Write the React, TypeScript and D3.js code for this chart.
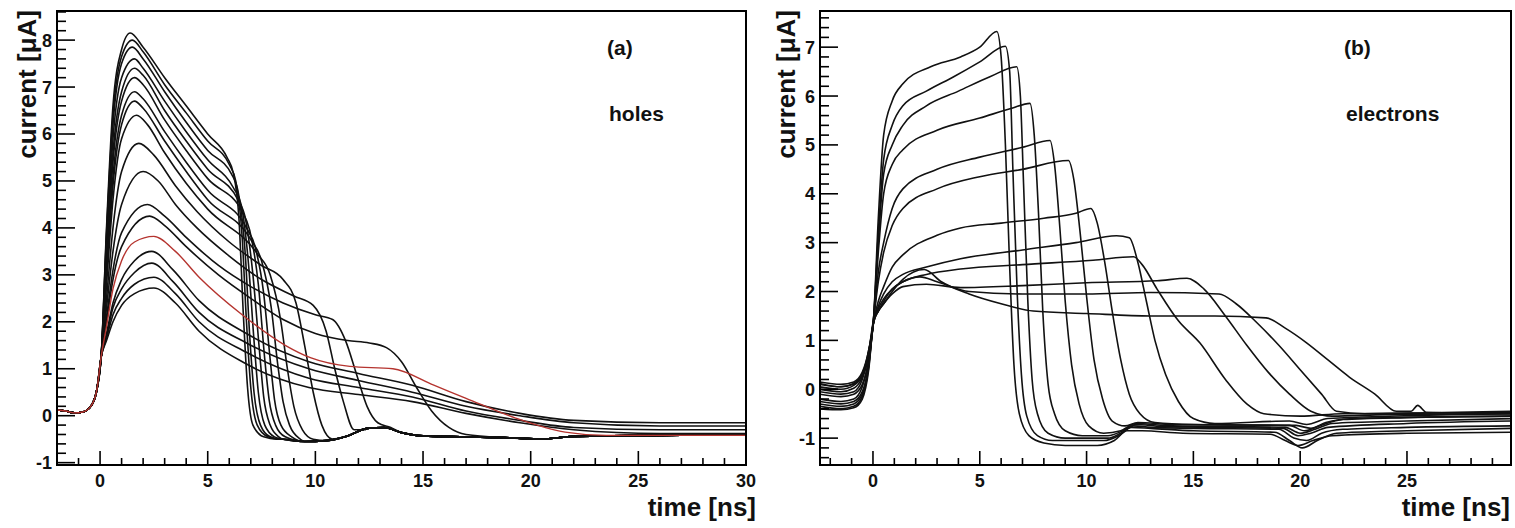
import React from "react";
import * as d3 from "d3";

type Pt = [number, number];

// ---------- panel (a): holes ----------
const holesXTicks = [0, 5, 10, 15, 20, 25, 30];
const holesYTicks = [-1, 0, 1, 2, 3, 4, 5, 6, 7, 8];

// common pre-trigger part, shared by all hole pulses
const holesOnset: Pt[] = [
  [-2, 0.12], [-1.6, 0.1], [-1.2, 0.06], [-0.8, 0.08], [-0.4, 0.22], [-0.15, 0.55], [0.05, 1.25],
];

// common undershoot after the pulses have ended
const holesBaseline: Pt[] = [
  [8.5, -0.5], [9.5, -0.55], [10.5, -0.53], [11.5, -0.43], [12.4, -0.27], [13.2, -0.25],
  [14.0, -0.36], [15.0, -0.43], [17, -0.45], [19, -0.47], [20.5, -0.5], [22, -0.44], [26, -0.42], [30, -0.4],
];

const holesCurves: Pt[][] = [
  [[0.3, 4.0], [0.6, 6.6], [1.0, 7.8], [1.4, 8.15], [2, 7.85], [3, 7.2], [4, 6.6], [5, 6.0], [5.9, 5.5], [6.2, 5.15], [6.45, 4.2], [6.65, 2.2], [6.85, 0.6], [7.1, -0.2], [7.6, -0.45], [8.2, -0.5]],
  [[0.3, 3.9], [0.6, 6.4], [1.0, 7.65], [1.5, 8.0], [2, 7.75], [3, 7.05], [4, 6.45], [5, 5.85], [6.0, 5.35], [6.3, 5.0], [6.6, 3.8], [6.8, 2.0], [7.0, 0.6], [7.3, -0.2], [7.8, -0.45], [8.3, -0.5]],
  [[0.3, 3.8], [0.6, 6.2], [1.0, 7.5], [1.5, 7.85], [2, 7.6], [3, 6.9], [4, 6.25], [5, 5.65], [6.1, 5.15], [6.4, 4.8], [6.75, 3.4], [6.95, 1.7], [7.15, 0.5], [7.45, -0.2], [7.9, -0.45], [8.4, -0.5]],
  [[0.3, 3.6], [0.6, 5.9], [1.0, 7.2], [1.6, 7.6], [2, 7.4], [3, 6.7], [4, 6.05], [5, 5.45], [6.2, 4.85], [6.55, 4.5], [6.9, 3.2], [7.15, 1.6], [7.35, 0.5], [7.65, -0.2], [8.1, -0.45]],
  [[0.3, 3.4], [0.6, 5.6], [1.0, 6.9], [1.6, 7.4], [2, 7.25], [3, 6.5], [4, 5.85], [5, 5.25], [6.4, 4.6], [6.75, 4.2], [7.1, 3.0], [7.4, 1.4], [7.6, 0.4], [7.9, -0.2], [8.3, -0.45]],
  [[0.3, 3.3], [0.6, 5.4], [1.0, 6.7], [1.6, 7.2], [2, 7.05], [3, 6.3], [4, 5.65], [5, 5.05], [6.6, 4.35], [6.95, 3.95], [7.35, 2.8], [7.65, 1.2], [7.85, 0.35], [8.15, -0.2], [8.6, -0.45]],
  [[0.3, 3.1], [0.6, 5.1], [1.0, 6.4], [1.6, 6.9], [2, 6.75], [3, 6.05], [4, 5.4], [5, 4.8], [6.8, 4.0], [7.2, 3.6], [7.6, 2.6], [7.9, 1.2], [8.1, 0.35], [8.4, -0.2], [8.9, -0.45]],
  [[0.3, 3.0], [0.6, 4.9], [1.0, 6.2], [1.6, 6.7], [2, 6.55], [3, 5.85], [4, 5.2], [5, 4.6], [7.0, 3.75], [7.5, 3.3], [7.95, 2.3], [8.25, 1.1], [8.5, 0.3], [8.8, -0.2], [9.3, -0.5]],
  [[0.3, 2.8], [0.6, 4.6], [1.0, 5.9], [1.7, 6.4], [2.2, 6.2], [3, 5.6], [4, 4.95], [5, 4.4], [7.3, 3.45], [7.9, 3.0], [8.4, 2.0], [8.7, 1.0], [9.0, 0.2], [9.4, -0.3], [9.9, -0.5]],
  [[0.3, 2.5], [0.6, 4.0], [1.0, 5.2], [1.8, 5.8], [2.5, 5.55], [3.5, 4.9], [4.5, 4.35], [6, 3.7], [7.5, 3.2], [8.5, 2.9], [9.1, 2.4], [9.5, 1.5], [9.9, 0.5], [10.3, -0.2], [10.8, -0.5]],
  [[0.3, 2.3], [0.6, 3.5], [1.0, 4.5], [2.0, 5.2], [2.7, 5.0], [3.5, 4.5], [4.5, 4.0], [6, 3.4], [7.5, 2.9], [9, 2.55], [9.9, 2.35], [10.5, 1.8], [10.9, 1.0], [11.3, 0.3], [11.8, -0.3], [12.3, -0.3]],
  [[0.3, 2.1], [0.6, 3.1], [1.0, 3.9], [2.2, 4.5], [3, 4.25], [4, 3.8], [5.5, 3.2], [7, 2.75], [8.5, 2.4], [10, 2.15], [10.8, 2.05], [11.4, 1.6], [11.9, 0.9], [12.4, 0.2], [12.9, -0.15], [13.5, -0.25]],
  [[0.3, 2.0], [0.6, 2.9], [1.0, 3.6], [2.3, 4.25], [3, 4.05], [4, 3.6], [5.5, 3.0], [7, 2.5], [8.5, 2.05], [10, 1.75], [11.5, 1.6], [12.5, 1.55], [13.3, 1.45], [14, 1.15], [14.7, 0.6], [15.4, 0.1], [16.2, -0.25], [17, -0.4]],
];

// slow pulses that do not reach the baseline inside the window
const holesTails: Pt[][] = [
  [[0.3, 1.75], [0.6, 2.4], [1.0, 2.9], [1.6, 3.3], [2.4, 3.5], [3.4, 3.1], [4.6, 2.45], [6.8, 1.75], [9.7, 1.15], [12, 0.9], [14.5, 0.65], [17, 0.3], [19.5, 0.05], [22, -0.1], [26, -0.15], [30, -0.15]],
  [[0.3, 1.7], [0.6, 2.3], [1.0, 2.7], [1.6, 3.05], [2.4, 3.25], [3.4, 2.85], [4.6, 2.2], [6.8, 1.55], [9.7, 1.0], [12, 0.75], [14.5, 0.5], [17, 0.2], [19.5, 0.0], [22, -0.15], [26, -0.22], [30, -0.22]],
  [[0.3, 1.65], [0.6, 2.15], [1.0, 2.5], [1.6, 2.8], [2.5, 2.95], [3.5, 2.6], [4.6, 2.0], [6.8, 1.35], [9.7, 0.8], [12, 0.6], [14.5, 0.4], [17, 0.1], [19.5, -0.1], [22, -0.25], [26, -0.3], [30, -0.3]],
  [[0.3, 1.6], [0.6, 2.0], [1.0, 2.35], [1.6, 2.6], [2.5, 2.72], [3.5, 2.4], [4.6, 1.8], [6.8, 1.1], [9.7, 0.6], [12, 0.45], [14.5, 0.3], [17, 0.05], [19.5, -0.15], [22, -0.3], [26, -0.38], [30, -0.38]],
];

const holesRed: Pt[] = [
  [0.3, 1.9], [0.6, 2.7], [1.0, 3.3], [1.6, 3.7], [2.5, 3.82], [3.5, 3.5], [4.6, 2.95], [6.6, 2.15], [8.6, 1.5],
  [9.8, 1.23], [11.6, 1.05], [13.6, 1.0], [15.5, 0.65], [17, 0.37], [19.3, -0.05], [21.6, -0.35], [23.5, -0.42], [30, -0.42],
];

// ---------- panel (b): electrons ----------
const electronsXTicks = [0, 5, 10, 15, 20, 25];
const electronsYTicks = [-1, 0, 1, 2, 3, 4, 5, 6, 7];

const electronsCurves: Pt[][] = [
  [[-2.5, 0.1], [-1.5, 0.05], [-0.9, 0.12], [-0.5, 0.3], [-0.2, 0.8], [0.02, 1.4], [0.25, 3.5], [0.5, 5.2], [0.9, 5.9], [1.4, 6.25], [2.7, 6.6], [4.1, 6.8], [5.0, 7.0], [5.8, 7.32], [6.0, 6.8], [6.2, 5.0], [6.4, 2.5], [6.6, 0.5], [6.85, -0.5], [7.3, -0.95], [8, -1.1], [9, -1.15], [10.5, -1.15], [11.3, -1.05], [11.9, -0.85], [12.6, -0.85], [14.5, -0.9], [18.6, -0.92], [19.3, -1.05], [19.9, -1.15], [20.6, -1.05], [21.5, -0.95], [25, -0.9], [29.9, -0.88]],
  [[-2.5, 0.0], [-1.5, -0.05], [-0.9, 0.02], [-0.5, 0.25], [-0.2, 0.75], [0.02, 1.4], [0.25, 3.2], [0.5, 4.7], [0.9, 5.4], [1.4, 5.8], [2.5, 6.1], [3.8, 6.4], [5.0, 6.7], [6.2, 7.02], [6.4, 6.5], [6.55, 4.5], [6.75, 2.0], [6.95, 0.3], [7.2, -0.55], [7.7, -0.95], [8.4, -1.05], [10.8, -1.05], [11.5, -0.95], [12.1, -0.78], [13, -0.8], [15, -0.85], [18.8, -0.88], [19.5, -1.05], [20.1, -1.2], [20.8, -1.05], [21.7, -0.9], [25, -0.85], [29.9, -0.8]],
  [[-2.5, -0.05], [-1.5, -0.1], [-0.9, -0.05], [-0.5, 0.2], [-0.2, 0.7], [0.02, 1.4], [0.25, 3.0], [0.5, 4.4], [0.9, 5.0], [1.4, 5.4], [2.5, 5.8], [4, 6.1], [5.5, 6.4], [6.73, 6.6], [6.9, 6.0], [7.05, 4.2], [7.25, 1.8], [7.45, 0.2], [7.7, -0.5], [8.2, -0.9], [9, -1.0], [11, -1.0], [11.6, -0.9], [12.2, -0.75], [13, -0.78], [15, -0.8], [19, -0.82], [19.7, -1.0], [20.3, -1.05], [21, -0.9], [22, -0.82], [25, -0.78], [29.9, -0.75]],
  [[-2.5, 0.15], [-1.5, 0.1], [-0.9, 0.15], [-0.5, 0.35], [-0.2, 0.8], [0.02, 1.4], [0.25, 2.8], [0.5, 4.0], [0.9, 4.6], [1.4, 4.9], [3, 5.3], [5, 5.55], [6.5, 5.75], [7.35, 5.85], [7.55, 5.2], [7.75, 3.6], [7.95, 1.6], [8.2, 0.1], [8.5, -0.5], [9, -0.85], [9.8, -0.95], [11, -0.95], [11.7, -0.85], [12.3, -0.72], [13.5, -0.76], [16, -0.78], [19.2, -0.8], [19.9, -0.95], [20.5, -0.9], [21.3, -0.78], [25, -0.7], [29.9, -0.65]],
  [[-2.5, -0.2], [-1.5, -0.25], [-0.9, -0.2], [-0.5, 0.05], [-0.2, 0.6], [0.02, 1.35], [0.25, 2.4], [0.5, 3.0], [0.9, 3.7], [1.4, 4.1], [3, 4.5], [5, 4.75], [7, 4.95], [8.29, 5.09], [8.5, 4.6], [8.75, 3.3], [9.0, 1.8], [9.3, 0.5], [9.65, -0.3], [10.1, -0.75], [10.8, -0.9], [11.6, -0.85], [12.3, -0.7], [14, -0.75], [19.3, -0.78], [20, -0.9], [20.7, -0.82], [21.5, -0.7], [25, -0.65], [29.9, -0.6]],
  [[-2.5, 0.05], [-1.5, 0.0], [-0.9, 0.08], [-0.5, 0.3], [-0.2, 0.75], [0.02, 1.4], [0.25, 2.2], [0.5, 2.8], [0.9, 3.35], [1.4, 3.7], [3, 4.1], [5, 4.35], [7, 4.5], [9.15, 4.68], [9.4, 4.3], [9.7, 3.2], [10.0, 1.9], [10.35, 0.6], [10.75, -0.2], [11.2, -0.65], [11.8, -0.75], [12.4, -0.68], [14, -0.72], [19.5, -0.74], [20.2, -0.85], [20.9, -0.75], [22, -0.62], [25, -0.58], [29.9, -0.55]],
  [[-2.5, -0.3], [-1.5, -0.35], [-0.9, -0.3], [-0.5, -0.1], [-0.2, 0.5], [0.02, 1.35], [0.25, 1.8], [0.5, 2.1], [0.9, 2.5], [1.4, 2.75], [3, 3.15], [4.1, 3.3], [6, 3.4], [8, 3.5], [9.5, 3.6], [10.2, 3.7], [10.5, 3.4], [10.85, 2.6], [11.2, 1.6], [11.6, 0.6], [12.0, -0.1], [12.5, -0.5], [13.2, -0.68], [15, -0.72], [19.8, -0.74], [20.5, -0.8], [21.2, -0.68], [22.5, -0.6], [29.9, -0.55]],
  [[-2.5, -0.1], [-1.5, -0.15], [-0.9, -0.1], [-0.5, 0.1], [-0.2, 0.6], [0.02, 1.35], [0.25, 1.7], [0.5, 1.95], [0.9, 2.2], [1.4, 2.35], [2.5, 2.5], [4.1, 2.67], [7, 2.85], [9.5, 3.0], [11.4, 3.14], [12.0, 3.1], [12.4, 2.6], [12.8, 1.8], [13.2, 1.0], [13.7, 0.3], [14.3, -0.25], [15, -0.6], [16, -0.7], [19.5, -0.65], [20.3, -0.72], [21.3, -0.6], [29.9, -0.5]],
  [[-2.5, -0.35], [-1.5, -0.4], [-0.9, -0.35], [-0.5, -0.15], [-0.2, 0.45], [0.02, 1.35], [0.25, 1.65], [0.5, 1.85], [0.9, 2.05], [1.4, 2.2], [2.5, 2.35], [4.1, 2.46], [7, 2.55], [10.3, 2.64], [12.2, 2.71], [12.6, 2.55], [13.3, 2.05], [14.3, 1.4], [15.3, 0.95], [16.5, 0.2], [17.5, -0.3], [18.3, -0.5], [20, -0.55], [22, -0.5], [29.9, -0.48]],
  [[-2.5, 0.12], [-1.5, 0.05], [-0.9, 0.1], [-0.5, 0.3], [-0.2, 0.75], [0.02, 1.4], [0.25, 1.6], [0.5, 1.75], [0.9, 1.95], [1.4, 2.1], [2.5, 2.15], [4.1, 2.08], [7, 2.12], [10, 2.18], [13.3, 2.22], [14.7, 2.27], [15.5, 2.05], [16.5, 1.5], [17.5, 0.9], [18.5, 0.35], [19.5, -0.1], [20.5, -0.45], [21.5, -0.55], [24, -0.52], [29.9, -0.5]],
  [[-2.5, -0.25], [-1.5, -0.3], [-0.9, -0.25], [-0.5, -0.05], [-0.2, 0.5], [0.02, 1.35], [0.25, 1.6], [0.5, 1.8], [0.9, 2.05], [1.4, 2.2], [2.2, 2.3], [3, 2.2], [4.5, 2.0], [7, 1.95], [10, 1.95], [13, 1.98], [16.2, 1.95], [17, 1.75], [18, 1.35], [19, 0.9], [20, 0.4], [21, -0.1], [21.7, -0.45], [23, -0.5], [26, -0.48], [29.9, -0.45]],
  [[-2.5, -0.4], [-1.5, -0.42], [-0.9, -0.38], [-0.5, -0.2], [-0.2, 0.4], [0.02, 1.35], [0.25, 1.6], [0.5, 1.75], [0.9, 2.0], [1.4, 2.25], [2.4, 2.45], [3.2, 2.2], [4.5, 1.95], [6, 1.75], [7.5, 1.6], [10, 1.55], [13, 1.5], [16, 1.5], [18.4, 1.46], [19.3, 1.25], [20.3, 0.95], [21.3, 0.6], [22.3, 0.25], [23.5, -0.1], [24.5, -0.45], [25.2, -0.45], [25.5, -0.33], [25.9, -0.47], [29.9, -0.5]],
];

const FONT = "'Liberation Sans', Arial, Helvetica, sans-serif";

// attach onset and baseline to a hole pulse
function withOnset(pts: Pt[], tail?: Pt[]): Pt[] {
  const last = pts[pts.length - 1][0];
  const rest = tail ? tail.filter((p) => p[0] > last) : [];
  return [...holesOnset, ...pts, ...rest];
}

type PanelProps = {
  id: string;
  left: number;
  top: number;
  width: number;
  height: number;
  xDomain: [number, number];
  yDomain: [number, number];
  xTicks: number[];
  yTicks: number[];
  curves: Pt[][];
  red?: Pt[];
  tag: string;
  name: string;
  labelX: number;
  xTitle: string;
  xTitleRight: number;
  yTitleX: number;
};

function Panel(p: PanelProps) {
  const x = d3.scaleLinear().domain(p.xDomain).range([p.left, p.left + p.width]);
  const y = d3.scaleLinear().domain(p.yDomain).range([p.top + p.height, p.top]);
  const line = d3
    .line<Pt>()
    .x((d) => x(d[0]))
    .y((d) => y(d[1]))
    .curve(d3.curveMonotoneX);

  const bottom = p.top + p.height;
  const xMinor: number[] = [];
  for (let t = Math.ceil(p.xDomain[0]); t <= p.xDomain[1]; t += 1) {
    if (!p.xTicks.includes(t)) xMinor.push(t);
  }
  const yMinor: number[] = [];
  for (let k = Math.ceil(p.yDomain[0] * 5); k <= p.yDomain[1] * 5; k++) {
    if (k % 5 !== 0) yMinor.push(k / 5);
  }

  return (
    <g>
      <defs>
        <clipPath id={p.id}>
          <rect x={p.left} y={p.top} width={p.width} height={p.height} />
        </clipPath>
      </defs>
      <g clipPath={`url(#${p.id})`} fill="none" strokeLinejoin="round">
        {p.curves.map((c, i) => (
          <path key={i} d={line(c) || ""} stroke="#111" strokeWidth={1.6} />
        ))}
        {p.red && <path d={line(p.red) || ""} stroke="#b5342f" strokeWidth={1.4} />}
      </g>
      {/* ticks */}
      <g stroke="#000" strokeWidth={1.6}>
        {p.xTicks.map((t) => (
          <line key={"xM" + t} x1={x(t)} x2={x(t)} y1={bottom} y2={bottom - 14} />
        ))}
        {xMinor.map((t) => (
          <line key={"xm" + t} x1={x(t)} x2={x(t)} y1={bottom} y2={bottom - 7} />
        ))}
        {p.yTicks.map((t) => (
          <line key={"yM" + t} x1={p.left} x2={p.left + 18} y1={y(t)} y2={y(t)} />
        ))}
        {yMinor.map((t) => (
          <line key={"ym" + t} x1={p.left} x2={p.left + 9} y1={y(t)} y2={y(t)} />
        ))}
      </g>
      <rect x={p.left} y={p.top} width={p.width} height={p.height} fill="none" stroke="#000" strokeWidth={2} />
      {/* tick labels */}
      <g fontFamily={FONT} fontWeight="bold" fontSize={18} fill="#111">
        {p.xTicks.map((t) => (
          <text key={"xl" + t} x={x(t)} y={bottom + 22} textAnchor="middle">
            {String(t)}
          </text>
        ))}
        {p.yTicks.map((t) => (
          <text key={"yl" + t} x={p.left - 5} y={y(t)} dy="0.36em" textAnchor="end">
            {String(t)}
          </text>
        ))}
      </g>
      <g fontFamily={FONT} fontWeight="bold" fill="#111">
        <text x={p.xTitleRight} y={516} fontSize={26} textAnchor="end">
          {p.xTitle}
        </text>
        <text transform={`translate(${p.yTitleX},${p.top - 1}) rotate(-90)`} fontSize={26} textAnchor="end">
          current [μA]
        </text>
        <text x={p.labelX - 2} y={55} fontSize={21}>
          {p.tag}
        </text>
        <text x={p.labelX} y={121} fontSize={21}>
          {p.name}
        </text>
      </g>
    </g>
  );
}

export default function App() {
  const holes = [...holesCurves.map((c) => withOnset(c, holesBaseline)), ...holesTails.map((c) => withOnset(c))];
  return (
    <svg
      width={1515}
      height={528}
      style={{ position: "absolute", left: 0, top: 0, background: "#fff" }}
    >
      <rect width={1515} height={528} fill="#fff" />
      <Panel
        id="clipA"
        left={57}
        top={11}
        width={689}
        height={454}
        xDomain={[-2, 30]}
        yDomain={[-1.05, 8.62]}
        xTicks={holesXTicks}
        yTicks={holesYTicks}
        curves={holes}
        red={withOnset(holesRed)}
        tag="(a)"
        name="holes"
        labelX={609}
        xTitle="time [ns]"
        xTitleRight={756}
        yTitleX={36}
      />
      <Panel
        id="clipB"
        left={820}
        top={11}
        width={691}
        height={454}
        xDomain={[-2.48, 29.87]}
        yDomain={[-1.55, 7.74]}
        xTicks={electronsXTicks}
        yTicks={electronsYTicks}
        curves={electronsCurves}
        tag="(b)"
        name="electrons"
        labelX={1346}
        xTitle="time [ns]"
        xTitleRight={1510}
        yTitleX={795}
      />
    </svg>
  );
}
